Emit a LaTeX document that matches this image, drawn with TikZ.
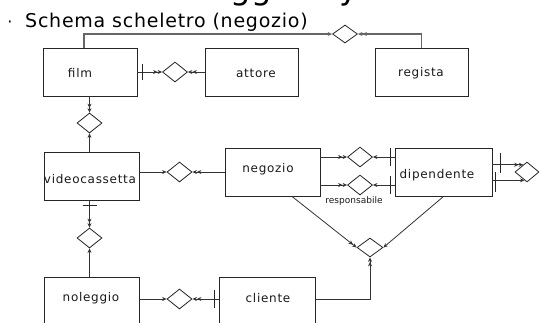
\documentclass[tikz,border=0pt]{standalone}
\usepackage{fontspec}
\setmainfont{DejaVu Sans}
\usetikzlibrary{shapes.geometric,arrows.meta,calc}
\begin{document}
\begin{tikzpicture}[x=1pt,y=-1pt,
  ent/.style={draw=black!85, line width=0.9pt, minimum height=48pt, inner sep=0pt},
  rel/.style={draw=black!85, line width=0.8pt, diamond, inner sep=0pt, minimum width=25pt, minimum height=20pt},
  lnk/.style={draw=black!80, line width=0.8pt},
  one/.style={lnk, -{Stealth[length=4.5pt,width=4pt]}},
  two/.style={lnk, -{Stealth[length=4.5pt,width=4pt]Stealth[length=4.5pt,width=4pt]}},
  topln/.style={draw=black!60, line width=1.1pt},
  lbl/.style={font=\fontsize{12}{14}\selectfont\addfontfeatures{LetterSpace=6}, inner sep=0pt, text=black!90},
  small/.style={font=\fontsize{9}{11}\selectfont, inner sep=0pt, text=black!90},
  barline/.style={draw=black!85, line width=0.8pt},
]
\useasboundingbox (0,0) rectangle (539,322);
\clip (0,0) rectangle (539,322);

% cut-off title and subtitle
\node[font=\fontsize{32}{36}\selectfont, anchor=base, inner sep=0pt] (titA) at (251,-1) {gg};
\node[font=\fontsize{32}{36}\selectfont, anchor=base, inner sep=0pt] (titB) at (349,-1) {y};
\node[font=\fontsize{16}{18}\selectfont, inner sep=0pt] (bul) at (10,24) {·};
\node[font=\fontsize{19}{22}\selectfont\addfontfeatures{LetterSpace=4}, anchor=base west, inner sep=0pt] (sub) at (25,27) {Schema scheletro (negozio)};

% entities
\node[ent, minimum width=94pt] (film) at (90,72) {};
\node[ent, minimum width=93pt] (attore) at (251.5,72) {};
\node[ent, minimum width=93pt] (regista) at (421.5,72) {};
\node[ent, minimum width=95pt] (video) at (91.5,176) {};
\node[ent, minimum width=95pt] (negozio) at (272.5,172) {};
\node[ent, minimum width=97pt] (dip) at (443.5,172) {};
\node[ent, minimum width=95pt, minimum height=52pt] (noleggio) at (91.5,303) {};
\node[ent, minimum width=96pt, minimum height=52pt] (cliente) at (267,303) {};

\node[lbl] (filmT) at (80,73) {film};
\node[lbl] (attoreT) at (256,73) {attore};
\node[lbl] (registaT) at (421,73) {regista};
\node[lbl] (videoT) at (90,179) {videocassetta};
\node[lbl] (negozioT) at (268,169) {negozio};
\node[lbl] (dipT) at (437,175) {dipendente};
\node[lbl] (noleggioT) at (91,298) {noleggio};
\node[lbl] (clienteT) at (268,298) {cliente};

% relationships
\node[rel, minimum height=18pt] (rTop) at (345,34) {};
\node[rel] (rFA) at (175,72) {};
\node[rel] (rFV) at (89.5,123) {};
\node[rel] (rVN) at (179.5,172) {};
\node[rel] (rVNo) at (89.5,238) {};
\node[rel] (rNC) at (179.5,299) {};
\node[rel] (rND1) at (360,157) {};
\node[rel] (rND2) at (360,185) {};
\node[rel, minimum width=24pt] (rDD) at (527,172) {};
\node[rel, minimum width=26pt, minimum height=19pt] (rTern) at (370,247.5) {};
\node[small] (resp) at (354,201) {responsabile};

% film - regista
\draw[topln, -{Stealth[length=4.5pt,width=4pt]}] ([xshift=-6pt]film.north) |- (rTop.west);
\draw[topln, -{Stealth[length=4.5pt,width=4pt]Stealth[length=4.5pt,width=4pt]}] (regista.north) |- (rTop.east);

% film - attore
\draw[two] (film.east) -- (rFA.west);
\draw[barline] ($(film.east)+(5,0)$) ++(0,-8) -- ++(0,16);
\draw[two] (attore.west) -- (rFA.east);

% film - videocassetta
\draw[two] (film.south -| rFV.north) -- (rFV.north);
\draw[one] (video.north -| rFV.south) -- (rFV.south);

% videocassetta - negozio
\draw[one] (video.east |- rVN.west) -- (rVN.west);
\draw[two] (negozio.west) -- (rVN.east);

% videocassetta - noleggio
\draw[two] (video.south -| rVNo.north) -- (rVNo.north);
\draw[barline] ($(video.south -| rVNo.north)+(0,5)$) ++(-7,0) -- ++(14,0);
\draw[one] (noleggio.north -| rVNo.south) -- (rVNo.south);

% noleggio - cliente
\draw[one] (noleggio.east |- rNC.west) -- (rNC.west);
\draw[two] (cliente.west |- rNC.east) -- (rNC.east);
\draw[barline] ($(cliente.west |- rNC.east)+(-4,0)$) ++(0,-9) -- ++(0,18);

% negozio - dipendente
\draw[two] (negozio.east |- rND1.west) -- (rND1.west);
\draw[one] (dip.west |- rND1.east) -- (rND1.east);
\draw[barline] ($(dip.west |- rND1.east)+(-4,0)$) ++(0,-9) -- ++(0,18);
\draw[two] (negozio.east |- rND2.west) -- (rND2.west);
\draw[one] (dip.west |- rND2.east) -- (rND2.east);
\draw[barline] ($(dip.west |- rND2.east)+(-4,0)$) ++(0,-9) -- ++(0,18);

% dipendente self relationship
\coordinate (pU) at ($(rDD.north)!0.3!(rDD.west)$);
\coordinate (pL) at ($(rDD.south)!0.2!(rDD.west)$);
\draw[two] (dip.east |- pU) -- (pU);
\draw[one] (dip.east |- pL) -- (pL);
\draw[barline] ($(dip.east |- pU)+(8,0)$) ++(0,-12) -- ++(0,20);
\draw[barline] ($(dip.east |- pL)+(3,0)$) ++(0,-8) -- ++(0,20);

% ternary
\draw[two] ($(negozio.south)+(19.5,0)$) -- (rTern.west);
\draw[one] (dip.south) -- (rTern.east);
\draw[two] (cliente.east |- rNC.east) -| (rTern.south);
\end{tikzpicture}
\end{document}
